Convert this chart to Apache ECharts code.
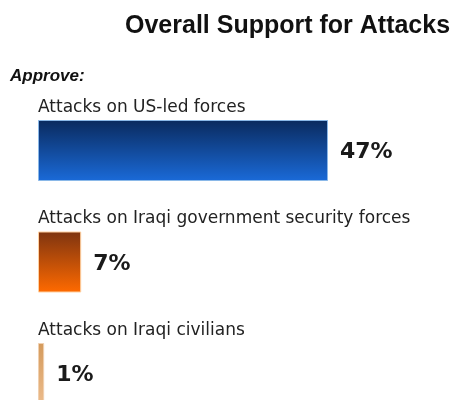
<!DOCTYPE html>
<html>
<head>
<meta charset="utf-8">
<script src="https://cdn.jsdelivr.net/npm/echarts@6/dist/echarts.min.js"></script>
<style>html,body{margin:0;padding:0;background:#fff;}#c{width:457px;height:400px;}</style>
</head>
<body>
<div id="c"></div>
<script>
var titleText = 'Overall Support for Attacks';
var subTitle = 'Approve:';
var categories = ['Attacks on US-led forces', 'Attacks on Iraqi government security forces', 'Attacks on Iraqi civilians'];
var values = [47, 7, 1];
var gradients = [
  ['#0a2a5e', '#1a6ad8', '#8ab8e8'],
  ['#7e3410', '#ff6a00', '#ffd0a0'],
  ['#d49a5c', '#ecbc8c', '#f0d0b0']
];

var chart = echarts.init(document.getElementById('c'), null, {renderer: 'canvas'});
var dataItems = values.map(function (v, i) {
  return {
    value: v,
    name: categories[i],
    itemStyle: {
      color: new echarts.graphic.LinearGradient(0, 0, 0, 1, [
        {offset: 0, color: gradients[i][0]},
        {offset: 1, color: gradients[i][1]}
      ]),
      borderColor: gradients[i][2],
      borderWidth: 1
    }
  };
});

chart.setOption({
  animation: false,
  backgroundColor: '#ffffff',
  title: [
    {
      text: titleText,
      left: 120, top: 9,
      textStyle: {fontFamily: 'Liberation Sans', fontWeight: 'bold', fontSize: 25, color: '#111'}
    },
    {
      text: subTitle,
      left: 5, top: 63,
      textStyle: {fontFamily: 'Liberation Sans', fontWeight: 'bold', fontStyle: 'italic', fontSize: 17, color: '#111'}
    }
  ],
  grid: {left: 38, width: 308.5, top: 150.5, height: 223, containLabel: false},
  xAxis: {
    type: 'value', min: 0, max: 50, show: false
  },
  yAxis: {
    type: 'category', data: categories, inverse: true, show: false, boundaryGap: false
  },
  series: [
    {
      type: 'bar',
      data: dataItems,
      barWidth: 61,
      clip: false,
      label: {
        show: true,
        position: [0, -21],
        formatter: '{b}',
        fontFamily: 'DejaVu Sans',
        fontSize: 17,
        color: '#222'
      }
    },
    {
      type: 'bar',
      data: values,
      barWidth: 61,
      barGap: '-100%',
      clip: false,
      itemStyle: {color: 'rgba(0,0,0,0)'},
      silent: true,
      label: {
        show: true,
        position: 'right',
        distance: 12,
        offset: [0, 2],
        formatter: '{c}%',
        fontFamily: 'DejaVu Sans',
        fontWeight: 'bold',
        fontSize: 22,
        color: '#1a1a1a'
      }
    }
  ]
});
</script>
</body>
</html>
